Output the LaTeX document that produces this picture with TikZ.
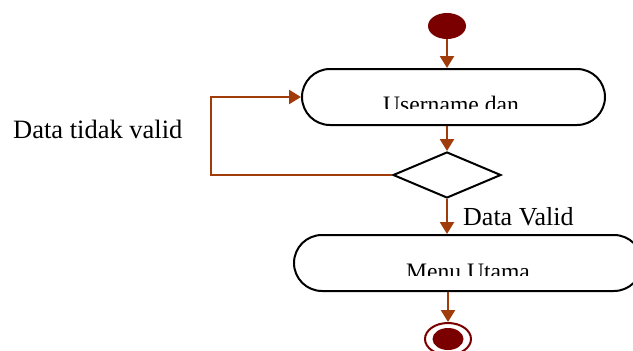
\documentclass[tikz,border=0pt]{standalone}
\usepackage{fontspec}
\setmainfont{Liberation Serif}
\usetikzlibrary{shapes.geometric,shapes.misc,arrows.meta}
\definecolor{flow}{RGB}{160,60,10}
\definecolor{dot}{RGB}{122,0,0}
\begin{document}
\begin{tikzpicture}[x=1pt,y=-1pt,
  flowline/.style={draw=flow,line width=2.4pt,-{Triangle[length=12pt,width=14pt]}},
  activity/.style={draw=black,line width=2pt,rounded rectangle,minimum height=56pt,inner sep=0pt},
  decision/.style={draw=black,line width=2pt,diamond,minimum width=108pt,minimum height=46pt,inner sep=0pt},
  label/.style={font=\fontsize{26}{30}\selectfont,inner sep=0pt,anchor=base west},
  intext/.style={font=\fontsize{23.6}{28}\selectfont,inner sep=0pt,anchor=base}]
\clip (0,0) rectangle (633,351);
\node[ellipse,fill=dot,minimum width=38pt,minimum height=26pt,inner sep=0pt] (start) at (447,26) {};
\node[activity,minimum width=303pt] (user) at (453.5,97) {};
\node[decision] (dec) at (447,175) {};
\node[activity,minimum width=348pt] (menu) at (468,263) {};
\node[ellipse,draw=dot,line width=2pt,minimum width=46pt,minimum height=32pt,inner sep=0pt] (end) at (448,339) {};
\node[ellipse,fill=dot,minimum width=31pt,minimum height=22pt,inner sep=0pt] (endin) at (448,339) {};
\begin{scope}
  \clip (300,70) rectangle (610,108.5);
  \node[intext] (usertext) at (451,112) {Username dan};
\end{scope}
\begin{scope}
  \clip (300,236) rectangle (633,275);
  \node[intext] (menutext) at (468,279) {Menu Utama};
\end{scope}
\node[label,font=\fontsize{26.5}{30}\selectfont] (lblinvalid) at (13,138) {Data tidak valid};
\node[label] (lblvalid) at (463,225) {Data Valid};
\draw[flowline] (start) -- (start |- user.north);
\draw[flowline] (user.south -| dec) -- (dec.north);
\draw[flowline] (dec.west) -- ++(-181,0) |- (user.west);
\draw[flowline] (dec.south) -- (dec |- menu.north);
\draw[flowline] (menu.south -| end) -- (end.north);
\end{tikzpicture}
\end{document}
